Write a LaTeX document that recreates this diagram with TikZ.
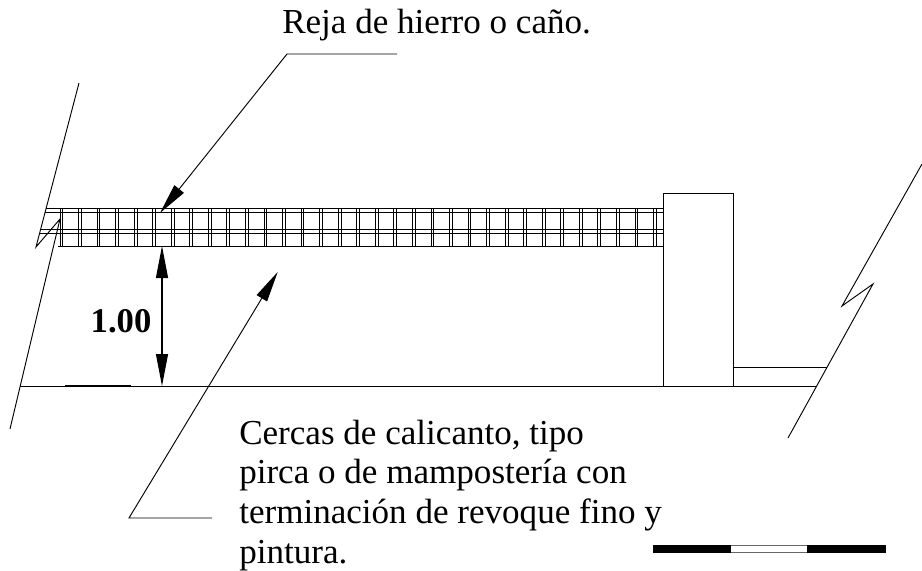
\documentclass[tikz,border=0pt]{standalone}
\usepackage{fontspec}
\setmainfont{Liberation Serif}
\usetikzlibrary{arrows.meta}
\tikzset{
  plainline/.style={line width=0.7pt},
  leader/.style={line width=0.7pt,-{Triangle[length=23pt,width=9pt]}},
  dimline/.style={line width=0.85pt,{Triangle[length=24pt,width=9pt]}-{Triangle[length=24pt,width=9pt]}},
  notetext/.style={anchor=base west,inner sep=0pt,align=left,font=\fontsize{26.3}{29.7}\selectfont},
  dimtext/.style={inner sep=0pt,font=\fontsize{26}{28}\selectfont\bfseries}
}
\begin{document}
\begin{tikzpicture}[x=0.75pt,y=0.75pt,yscale=-1]
\useasboundingbox (0,0) rectangle (922,571);

%Break line left
\draw [plainline] (79,83) -- (36,247) -- (60,219) -- (10,429) ;
%Break line right
\draw [plainline] (922,164) -- (842,306) -- (873,284) -- (788,438) ;

%Rail horizontals
\draw [plainline] (46,208) -- (663,208) ;
\draw [plainline] (45,212) -- (663,212) ;
\draw [plainline] (40,229) -- (663,229) ;
\draw [plainline] (40,233) -- (663,233) ;
\draw [plainline] (58,246) -- (663,246) ;
%Rail verticals
\foreach \i in {0,...,32} {
  \draw [plainline] (60+18.55*\i,208) -- (60+18.55*\i,246) ;
  \draw [plainline] (62.8+18.55*\i,208) -- (62.8+18.55*\i,246) ;
}

%Pier
\draw [plainline] (663.5,386) rectangle (733,193) ;
%Ground
\draw [plainline] (20,386) -- (817,386) ;
\draw [line width=1pt] (65,385.7) -- (131,385.7) ;
\draw [plainline] (733,367) -- (827,367) ;

%Height dimension
\coordinate (railbottom) at (162,246);
\coordinate (groundpoint) at (162,386);
\draw [dimline] (railbottom) -- (groundpoint) ;
% Text Node
\node (height) [dimtext] at (121,321) {1.00};

% Text Node
\node (rejatext) [notetext] at (282,33.5) {Reja de hierro o caño.};
% Text Node
\node (cercatext) [notetext] at (239,563) {Cercas de calicanto, tipo\\pirca o de mampostería con\\terminación de revoque fino y\\pintura.};

%Leader reja
\coordinate (rejaend) at (397,54);
\coordinate (rejaknee) at (287,54);
\coordinate (rejatip) at (160,213);
\draw [leader] (rejaend) -- (rejaknee) -- (rejatip) ;
%Leader cerca
\coordinate (cercaend) at (212,518);
\coordinate (cercaknee) at (129,518);
\coordinate (cercatip) at (277.7,272);
\draw [leader] (cercaend) -- (cercaknee) -- (cercatip) ;

%Scale bar
\fill (653,545) rectangle (731,553) ;
\draw [line width=0.75pt,black!60] (731,545.5) -- (807,545.5) ;
\draw [line width=1.2pt,black!60] (731,552.3) -- (807,552.3) ;
\fill (807,545) rectangle (886,553) ;

\end{tikzpicture}
\end{document}
